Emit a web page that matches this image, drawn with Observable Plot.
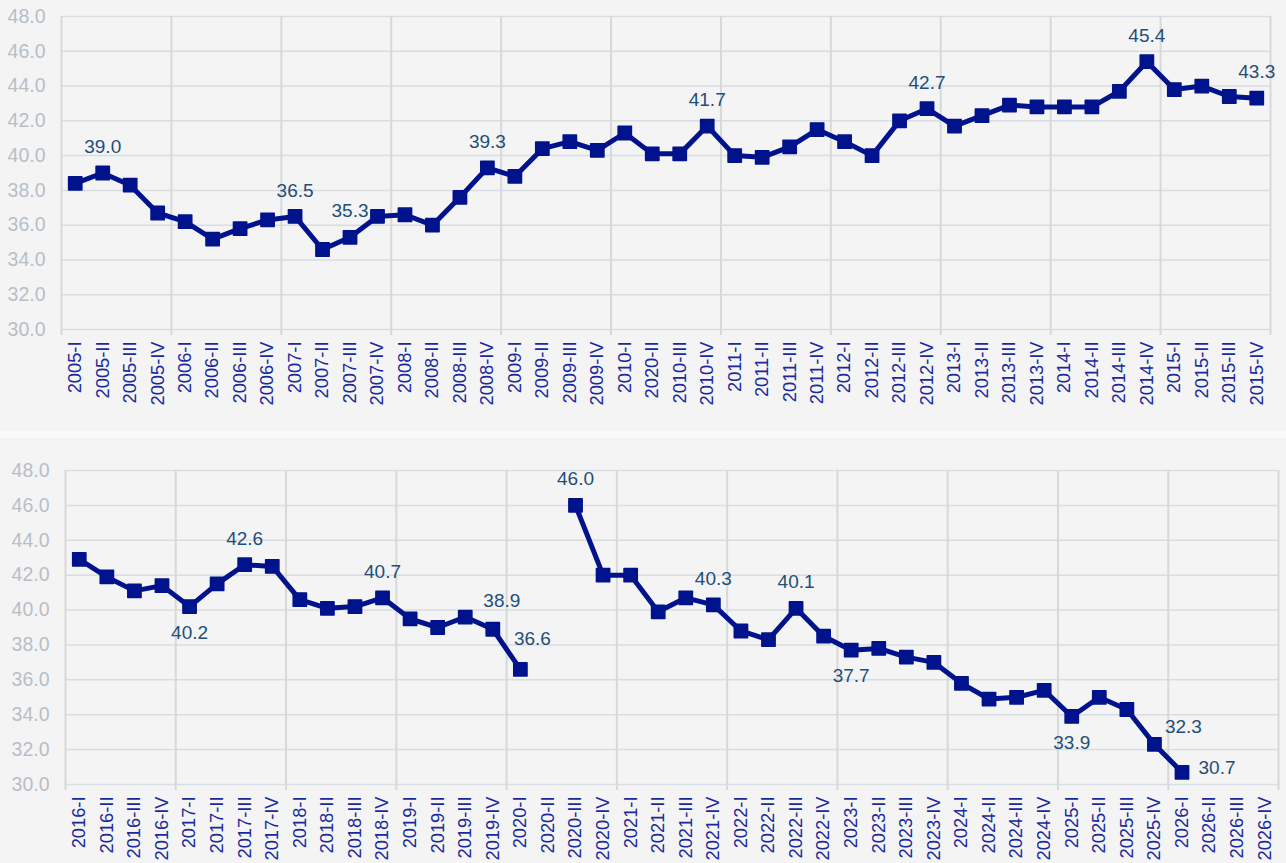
<!DOCTYPE html>
<html><head><meta charset="utf-8">
<script src="https://cdn.jsdelivr.net/npm/d3@7"></script>
<script src="https://cdn.jsdelivr.net/npm/@observablehq/plot@0.6"></script>
<style>
html,body{margin:0;padding:0;background:#f4f4f4;overflow:hidden;}
#top{background:#f4f4f4;height:431px}
#gap{height:7px;background:#fafafa}
#bottom{background:#f4f4f4;height:425px}
svg{display:block}
</style></head><body>
<div id="top"></div><div id="gap"></div><div id="bottom"></div>
<script>
const topQuarters = [
 "2005-I","2005-II","2005-III","2005-IV","2006-I","2006-II","2006-III","2006-IV",
 "2007-I","2007-II","2007-III","2007-IV","2008-I","2008-II","2008-III","2008-IV",
 "2009-I","2009-II","2009-III","2009-IV","2010-I","2020-II","2010-III","2010-IV",
 "2011-I","2011-II","2011-III","2011-IV","2012-I","2012-II","2012-III","2012-IV",
 "2013-I","2013-II","2013-III","2013-IV","2014-I","2014-II","2014-III","2014-IV",
 "2015-I","2015-II","2015-III","2015-IV"];
const topValues = [
 38.4,39.0,38.3,36.7,36.2,35.2,35.8,36.3,
 36.5,34.6,35.3,36.5,36.6,36.0,37.6,39.3,
 38.8,40.4,40.8,40.3,41.3,40.1,40.1,41.7,
 40.0,39.9,40.5,41.5,40.8,40.0,42.0,42.7,
 41.7,42.3,42.9,42.8,42.8,42.8,43.7,45.4,
 43.8,44.0,43.4,43.3];
const bottomQuarters = [
 "2016-I","2016-II","2016-III","2016-IV","2017-I","2017-II","2017-III","2017-IV",
 "2018-I","2018-II","2018-III","2018-IV","2019-I","2019-II","2019-III","2019-IV",
 "2020-I","2020-II","2020-III","2020-IV","2021-I","2021-II","2021-III","2021-IV",
 "2022-I","2022-II","2022-III","2022-IV","2023-I","2023-II","2023-III","2023-IV",
 "2024-I","2024-II","2024-III","2024-IV","2025-I","2025-II","2025-III","2025-IV",
 "2026-I","2026-II","2026-III","2026-IV"];
const bottomValues = [
 42.9,41.9,41.1,41.4,40.2,41.5,42.6,42.5,
 40.6,40.1,40.2,40.7,39.5,39.0,39.6,38.9,
 36.6,null,46.0,42.0,42.0,39.9,40.7,40.3,
 38.8,38.3,40.1,38.5,37.7,37.8,37.3,37.0,
 35.8,34.9,35.0,35.4,33.9,35.0,34.3,32.3,
 30.7,null,null,null];
const yTicks = [30,32,34,36,38,40,42,44,46,48];

// which points carry value labels, grouped by placement
const topLabelSets = [
 {idx:[1,8,10,15,23,31,39,43], dx:0, dy:-26}
];
const bottomLabelSets = [
 {idx:[6,11,18,23,26], dx:0, dy:-26},
 {idx:[4,28,36], dx:0, dy:26},
 {idx:[15], dx:9, dy:-28},
 {idx:[16], dx:12, dy:-30},
 {idx:[39], dx:29, dy:-17},
 {idx:[40], dx:35, dy:-4}
];

const LINE = "#00128c";
const LABEL = "#1f4e79";
const XTXT = "#1a2a9c";
const YTXT = "#b7bec8";
const FONT = "'Liberation Sans', Arial, sans-serif";

function panel({quarters, values, height, marginTop, marginBottom, marginLeft, marginRight, labelSets}) {
  const n = quarters.length;
  const data = values.map((v, i) => ({i, x: i + 0.5, y: v == null ? NaN : v}));
  const marks = [
    Plot.ruleY(yTicks, {stroke:"#d8dde3", strokeWidth:1.5}),
    Plot.ruleX(d3.range(0, n + 1, 4), {stroke:"#d7d8da", strokeWidth:2}),
    Plot.axisX(d3.range(0, n + 1, 4), {tickSize:6, tickFormat:() => "", stroke:"#d7d8da", strokeWidth:2}),
    Plot.axisX(d3.range(n).map(i => i + 0.5), {
      tickFormat: v => quarters[Math.floor(v)], tickRotate:-90, tickSize:0, tickPadding:12,
      fill:XTXT, fontSize:18.3
    }),
    Plot.axisY(yTicks, {tickSize:0, tickPadding:16, tickFormat: d => d.toFixed(1), fill:YTXT, fontSize:19.5}),
    Plot.line(data, {x:"x", y:"y", stroke:LINE, strokeWidth:5, strokeLinejoin:"round"}),
    Plot.dot(data, {x:"x", y:"y", symbol:"square", r:7.5, fill:LINE, stroke:LINE, strokeWidth:1.5, strokeLinejoin:"round"})
  ];
  for (const s of labelSets) {
    marks.push(Plot.text(data.filter(d => s.idx.includes(d.i)), {
      x:"x", y:"y", text: d => d.y.toFixed(1), dx:s.dx, dy:s.dy, fill:LABEL, fontSize:19
    }));
  }
  return Plot.plot({
    width:1286, height, marginTop, marginBottom, marginLeft, marginRight,
    style:{background:"transparent", fontFamily:FONT, fontSize:"18px", overflow:"visible"},
    x:{domain:[0, n], label:null},
    y:{domain:[30, 48], label:null},
    marks
  });
}

document.getElementById("top").append(panel({
  quarters: topQuarters, values: topValues, height:431,
  marginTop:16, marginBottom:102, marginLeft:61, marginRight:16, labelSets: topLabelSets
}));
document.getElementById("bottom").append(panel({
  quarters: bottomQuarters, values: bottomValues, height:425,
  marginTop:32, marginBottom:79, marginLeft:65, marginRight:8, labelSets: bottomLabelSets
}));
</script>
</body></html>
